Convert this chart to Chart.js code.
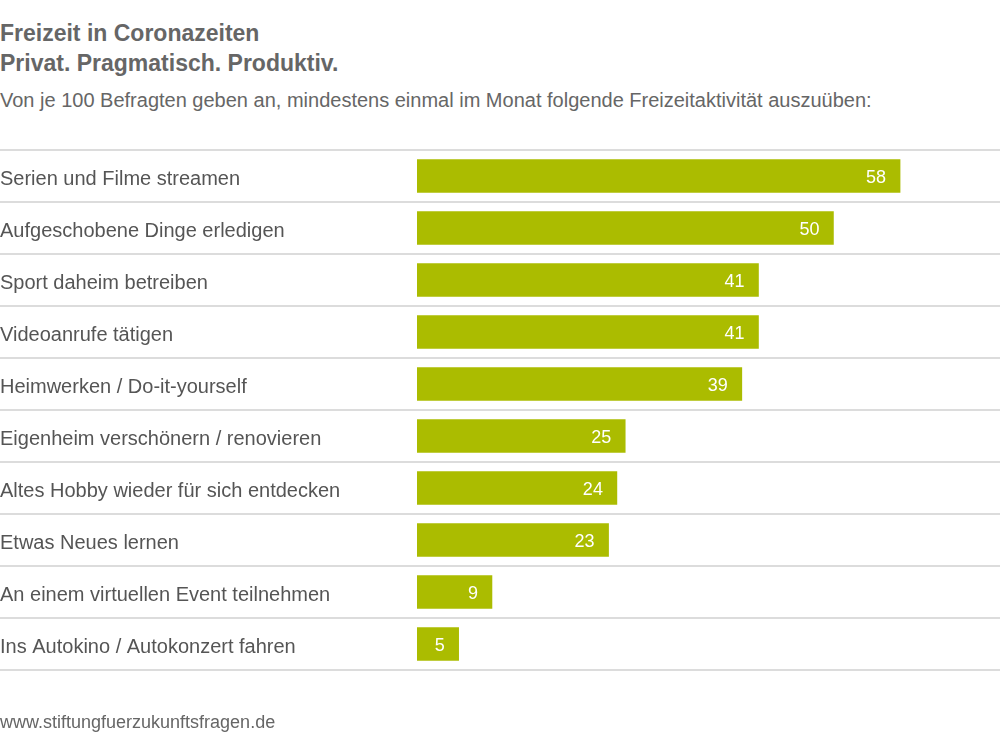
<!DOCTYPE html>
<html>
<head>
<meta charset="utf-8">
<script src="https://cdn.jsdelivr.net/npm/chart.js@4"></script>
<style>
  html, body { margin: 0; padding: 0; background: #fff; }
  body { width: 1000px; height: 737px; position: relative; overflow: hidden; font-family: "Liberation Sans", Arial, sans-serif; color: #666; }
  .title { position: absolute; left: 0; font-weight: bold; font-size: 23px; line-height: 1; color: #666; white-space: nowrap; }
  .sub { position: absolute; left: 0; top: 90px; font-size: 20px; line-height: 1; color: #666; white-space: nowrap; }
  .foot { position: absolute; left: 0; top: 713px; font-size: 18px; line-height: 1; color: #666; white-space: nowrap; }
  #wrap { position: absolute; left: 0; top: 0; width: 1000px; height: 737px; }
</style>
</head>
<body>
<div class="title" style="top:22px">Freizeit in Coronazeiten</div>
<div class="title" style="top:52px">Privat. Pragmatisch. Produktiv.</div>
<div class="sub">Von je 100 Befragten geben an, mindestens einmal im Monat folgende Freizeitaktivität auszuüben:</div>
<div id="wrap"><canvas id="chart"></canvas></div>
<div class="foot">www.stiftungfuerzukunftsfragen.de</div>
<script>
// Aktivitäten und Werte (je 100 Befragte)
const activities = [
  'Serien und Filme streamen',
  'Aufgeschobene Dinge erledigen',
  'Sport daheim betreiben',
  'Videoanrufe tätigen',
  'Heimwerken / Do-it-yourself',
  'Eigenheim verschönern / renovieren',
  'Altes Hobby wieder für sich entdecken',
  'Etwas Neues lernen',
  'An einem virtuellen Event teilnehmen',
  'Ins Autokino / Autokonzert fahren'
];
const shares = [58, 50, 41, 41, 39, 25, 24, 23, 9, 5];
const axisMax = 70;

const barColor = '#abbc00';
const lineColor = '#dcdcdc';

// Werte weiss ans Balkenende schreiben
const valueLabels = {
  id: 'valueLabels',
  afterDatasetsDraw(chart) {
    const ctx = chart.ctx;
    const meta = chart.getDatasetMeta(0);
    ctx.save();
    ctx.font = '18px "Liberation Sans", Arial, sans-serif';
    ctx.fillStyle = '#fff';
    ctx.textAlign = 'right';
    ctx.textBaseline = 'middle';
    meta.data.forEach((bar, i) => {
      ctx.fillText(String(shares[i]), bar.x - 14, bar.y + 2);
    });
    ctx.restore();
  }
};

new Chart(document.getElementById('chart').getContext('2d'), {
  type: 'bar',
  data: {
    labels: activities,
    datasets: [{
      data: shares,
      backgroundColor: barColor,
      borderWidth: 0,
      barThickness: 33
    }]
  },
  options: {
    indexAxis: 'y',
    responsive: true,
    maintainAspectRatio: false,
    animation: false,
    layout: { padding: { top: 150, bottom: 67, left: 0, right: 0 } },
    plugins: { legend: { display: false }, tooltip: { enabled: false }, title: { display: false } },
    scales: {
      x: { display: false, min: 0, max: axisMax },
      y: {
        afterFit(scale) { scale.width = 417; },
        border: { display: false },
        grid: { offset: true, color: lineColor, lineWidth: 2, tickLength: 417, drawTicks: true },
        ticks: {
          crossAlign: 'far',
          padding: 0,
          labelOffset: 3,
          color: '#555',
          font: { family: '"Liberation Sans", Arial, sans-serif', size: 20 }
        }
      }
    }
  },
  plugins: [valueLabels]
});
</script>
</body>
</html>
